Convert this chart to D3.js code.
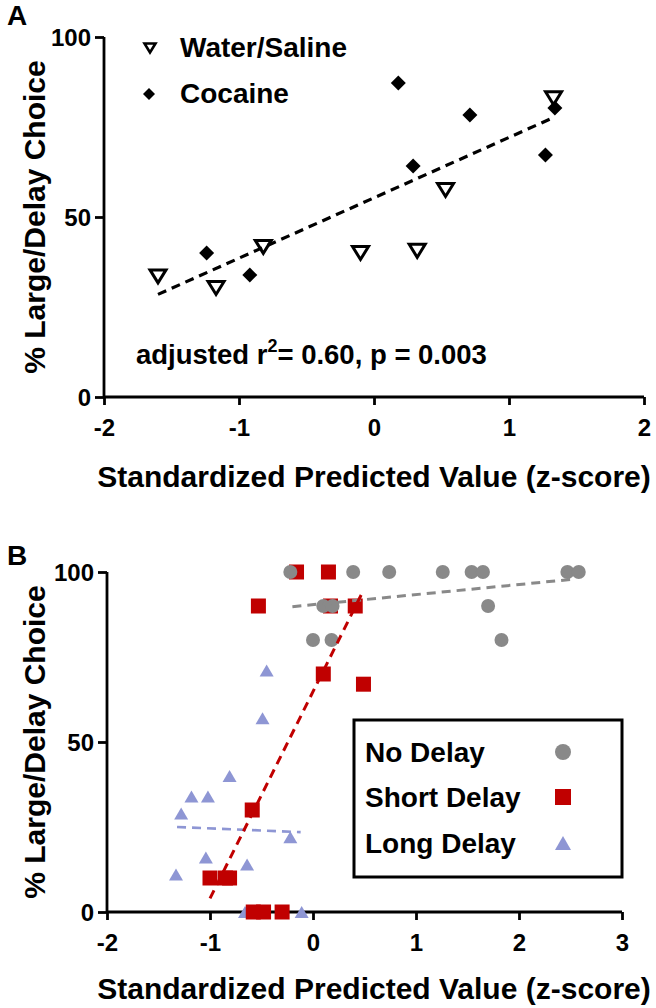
<!DOCTYPE html>
<html><head><meta charset="utf-8">
<script src="https://cdn.jsdelivr.net/npm/d3@7"></script>
<style>
body{margin:0;background:#fff}
svg{display:block}
text{font-family:"Liberation Sans",Arial,sans-serif;font-weight:bold;fill:#000}
</style>
</head><body>
<svg id="c" width="656" height="1008"></svg>
<script>
// ---------- data ----------
const yTicks = [0, 50, 100];
const xTicksA = [-2, -1, 0, 1, 2];
const xTicksB = [-2, -1, 0, 1, 2, 3];

// Panel A
const waterX = [-1.60, -1.17, -0.82, -0.10, 0.32, 0.53, 1.33];
const waterY = [33.5, 30.3, 41.7, 40.0, 40.6, 57.5, 83.0];
const cocaineX = [-1.24, -0.92, 0.18, 0.29, 0.71, 1.27, 1.34];
const cocaineY = [40.0, 33.9, 87.2, 64.2, 78.3, 67.2, 80.3];
const fitAX = [-1.60, 1.34];
const fitAY = [28.5, 77.8];
const legendA = ["Water/Saline", "Cocaine"];
const statText = ["adjusted r", "2", "= 0.60, p = 0.003"];

// Panel B
const noDelayX = [-0.22, 0.39, 0.74, 1.26, 1.54, 1.65, 2.47, 2.58, 0.10, 0.19, 1.70, 0.00, 0.18, 1.83];
const noDelayY = [100, 100, 100, 100, 100, 100, 100, 100, 90, 90, 90, 80, 80, 80];
const shortX = [-0.16, 0.15, -0.53, 0.17, 0.41, 0.10, 0.49, -0.59, -1.00, -0.85, -0.81, -0.58, -0.48, -0.30];
const shortY = [100, 100, 90, 90, 90, 70, 67, 30, 10, 10, 10, 0, 0, 0];
const longX = [-0.45, -0.49, -0.81, -1.18, -1.02, -1.28, -0.22, -1.04, -0.64, -1.33, -0.66, -0.11];
const longY = [71, 57, 40, 34, 34, 29, 22, 16, 14, 11, 0, 0];
const fitNoX = [-0.20, 2.50], fitNoY = [89.8, 97.8];
const fitShortX = [-1.00, 0.48], fitShortY = [4, 94];
const fitLongX = [-1.32, -0.12], fitLongY = [25, 23.5];
const legendB = ["No Delay", "Short Delay", "Long Delay"];

const yTitle = "% Large/Delay Choice";
const xTitle = "Standardized Predicted Value (z-score)";

// ---------- drawing ----------
const svg = d3.select("#c");
const GRAY = "#898989", RED = "#c00000", BLUE = "#8e96d4";
const zip = (xs, ys) => xs.map((x, i) => [x, ys[i]]);

function axes(g, x, y, xt, yt) {
  const xa = g.append("g").attr("transform", `translate(0,${y(0)})`)
    .call(d3.axisBottom(x).tickValues(xt).tickSize(8).tickPadding(14).tickFormat(d => String(d)));
  const ya = g.append("g").attr("transform", `translate(${x.range()[0]},0)`)
    .call(d3.axisLeft(y).tickValues(yt).tickSize(9).tickPadding(4).tickFormat(d => String(d)));
  [xa, ya].forEach(a => {
    a.select(".domain").attr("stroke", "#000").attr("stroke-width", 2.8);
    a.selectAll(".tick line").attr("stroke", "#000").attr("stroke-width", 2.8);
    a.selectAll(".tick text").style("font-size", "24px").style("font-weight", "bold")
      .style("font-family", '"Liberation Sans", Arial, sans-serif').attr("fill", "#000");
  });
  xa.select(".domain").attr("d", `M${x.range()[0]},0H${x.range()[1]}`);
  ya.select(".domain").attr("d", `M0,${y.range()[1]}V${y.range()[0]}`);
  ya.selectAll(".tick text").attr("dy", "0.36em");
}

const triDown = (w, h) => `M${-w/2},${-h/2}L${w/2},${-h/2}L0,${h/2}Z`;
const triUp = (w, h) => `M${-w/2},${h/2}L${w/2},${h/2}L0,${-h/2}Z`;
const diamond = s => `M0,${-s}L${s},0L0,${s}L${-s},0Z`;

// ===== Panel A =====
const xA = d3.scaleLinear().domain([-2, 2]).range([104, 644]);
const yA = d3.scaleLinear().domain([0, 100]).range([397, 37]);
const gA = svg.append("g");
axes(gA, xA, yA, xTicksA, yTicks);

gA.append("path").datum(zip(fitAX, fitAY))
  .attr("d", d3.line().x(d => xA(d[0])).y(d => yA(d[1])))
  .attr("fill", "none").attr("stroke", "#000").attr("stroke-width", 3.2).attr("stroke-dasharray", "9,6");

gA.selectAll(".coc").data(zip(cocaineX, cocaineY)).join("path")
  .attr("transform", d => `translate(${xA(d[0])},${yA(d[1])})`)
  .attr("d", diamond(7.5)).attr("fill", "#000");
gA.selectAll(".wat").data(zip(waterX, waterY)).join("path")
  .attr("transform", d => `translate(${xA(d[0])},${yA(d[1])})`)
  .attr("d", triDown(16, 13)).attr("fill", "none").attr("stroke", "#000").attr("stroke-width", 3);

// legend A
gA.append("path").attr("transform", "translate(150,48)").attr("d", triDown(11, 9))
  .attr("fill", "none").attr("stroke", "#000").attr("stroke-width", 2.6);
gA.append("path").attr("transform", "translate(149,94)").attr("d", diamond(6)).attr("fill", "#000");
gA.append("text").attr("x", 180).attr("y", 57).style("font-size", "28px").text(legendA[0]);
gA.append("text").attr("x", 180).attr("y", 103).style("font-size", "28px").text(legendA[1]);

// stats
const st = gA.append("text").attr("x", 136).attr("y", 364).style("font-size", "27.5px");
st.append("tspan").text(statText[0]);
st.append("tspan").attr("dy", -12).style("font-size", "18px").text(statText[1]);
st.append("tspan").attr("dy", 12).text(statText[2]);

// titles A
svg.append("text").attr("x", 7).attr("y", 25).style("font-size", "28px").text("A");
svg.append("text").attr("transform", `translate(45,${(yA(0)+yA(100))/2}) rotate(-90)`)
  .attr("text-anchor", "middle").style("font-size", "30px").text(yTitle);
svg.append("text").attr("x", 374).attr("y", 487).attr("text-anchor", "middle")
  .style("font-size", "30px").text(xTitle);

// ===== Panel B =====
const xB = d3.scaleLinear().domain([-2, 3]).range([107, 622]);
const yB = d3.scaleLinear().domain([0, 100]).range([912, 572]);
const gB = svg.append("g");
axes(gB, xB, yB, xTicksB, yTicks);

gB.selectAll(".lng").data(zip(longX, longY)).join("path")
  .attr("transform", d => `translate(${xB(d[0])},${yB(d[1])})`)
  .attr("d", triUp(14, 12)).attr("fill", BLUE);
gB.selectAll(".sht").data(zip(shortX, shortY)).join("rect")
  .attr("x", d => xB(d[0]) - 7.5).attr("y", d => yB(d[1]) - 7.5)
  .attr("width", 15).attr("height", 15).attr("fill", RED);
gB.selectAll(".nod").data(zip(noDelayX, noDelayY)).join("circle")
  .attr("cx", d => xB(d[0])).attr("cy", d => yB(d[1])).attr("r", 7).attr("fill", GRAY);

const lineB = d3.line().x(d => xB(d[0])).y(d => yB(d[1]));
[[fitLongX, fitLongY, BLUE, 2.6], [fitNoX, fitNoY, GRAY, 3], [fitShortX, fitShortY, RED, 3]].forEach(([xs, ys, c, w]) => {
  gB.append("path").datum(zip(xs, ys)).attr("d", lineB)
    .attr("fill", "none").attr("stroke", c).attr("stroke-width", w).attr("stroke-dasharray", "9,6");
});

// legend B
gB.append("rect").attr("x", 354).attr("y", 720).attr("width", 268).attr("height", 157)
  .attr("fill", "#fff").attr("stroke", "#000").attr("stroke-width", 3);
const ly = [752, 797, 843];
legendB.forEach((t, i) => {
  gB.append("text").attr("x", 365).attr("y", ly[i] + 10).style("font-size", "28px").text(t);
});
gB.append("circle").attr("cx", 563).attr("cy", ly[0]).attr("r", 8).attr("fill", GRAY);
gB.append("rect").attr("x", 555).attr("y", ly[1] - 8).attr("width", 16).attr("height", 16).attr("fill", RED);
gB.append("path").attr("transform", `translate(563,${ly[2]})`).attr("d", triUp(16, 14)).attr("fill", BLUE);

// titles B
svg.append("text").attr("x", 7).attr("y", 565).style("font-size", "28px").text("B");
svg.append("text").attr("transform", `translate(45,${(yB(0)+yB(100))/2}) rotate(-90)`)
  .attr("text-anchor", "middle").style("font-size", "30px").text(yTitle);
svg.append("text").attr("x", 374).attr("y", 999).attr("text-anchor", "middle")
  .style("font-size", "30px").text(xTitle);
</script>
</body></html>
